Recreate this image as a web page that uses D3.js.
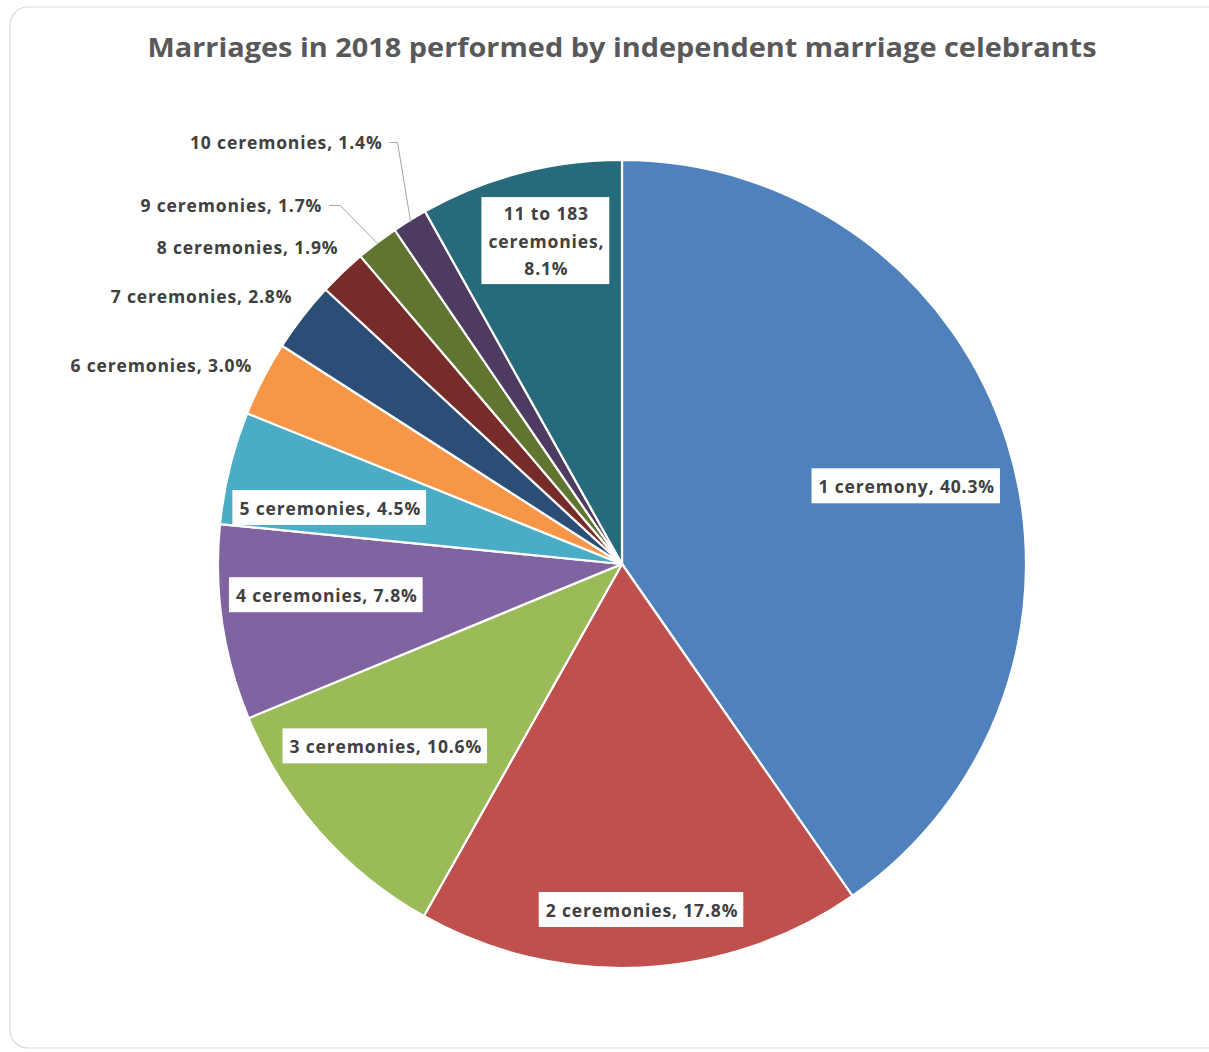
<!DOCTYPE html>
<html><head><meta charset="utf-8">
<script src="https://cdn.jsdelivr.net/npm/d3@7"></script>
<style>
html,body{margin:0;padding:0;background:#fff;}
svg{display:block;}
</style></head>
<body>
<svg id="chart" width="1209" height="1052"></svg>
<script>
// ---- data ----
const categories = ["1 ceremony","2 ceremonies","3 ceremonies","4 ceremonies","5 ceremonies","6 ceremonies","7 ceremonies","8 ceremonies","9 ceremonies","10 ceremonies","11 to 183 ceremonies"];
const shares = [40.3,17.8,10.6,7.8,4.5,3.0,2.8,1.9,1.7,1.4,8.1];
const labelLines = [
  ["1 ceremony, 40.3%"],["2 ceremonies, 17.8%"],["3 ceremonies, 10.6%"],["4 ceremonies, 7.8%"],
  ["5 ceremonies, 4.5%"],["6 ceremonies, 3.0%"],["7 ceremonies, 2.8%"],["8 ceremonies, 1.9%"],
  ["9 ceremonies, 1.7%"],["10 ceremonies, 1.4%"],["11 to 183","ceremonies,","8.1%"]
];
const titleText = "Marriages in 2018 performed by independent marriage celebrants";

// ---- style / layout ----
const colors = ["#4F81BD","#C0504D","#9BBB59","#8064A2","#4BACC6","#F79646","#2C4D75","#772C2A","#5F7530","#4D3B62","#276A7C"];
// label placement: polar angle (deg, clockwise from top), radius factor, mode
const labelAngle  = [74.9,176.7,232.2,263.8,280.7,298.2,309.0,318.1,320.1,330.4,346.8];
const labelRadius = [0.73,0.86,0.74,0.735,0.735,1.039,1.05,1.051,1.157,1.2,0.82];
const labelMode   = ["box","box","box","box","box","out","out","out","lead","lead","box"];

const W=1209,H=1052, cx=622, cy=564, R=404;
const svg=d3.select("#chart");

// card
svg.append("rect").attr("x",10).attr("y",7).attr("width",1230).attr("height",1041)
  .attr("rx",18).attr("fill","#fff").attr("stroke","#d9d9d9").attr("stroke-width",1.2);

svg.append("text").attr("x",622).attr("y",57).attr("text-anchor","middle")
  .attr("font-family","'Open Sans',sans-serif").attr("font-weight",700).attr("font-size",27)
  .attr("fill","#595959").attr("textLength",949).attr("lengthAdjust","spacingAndGlyphs")
  .text(titleText);

const data = categories.map((c,i)=>({cat:c,value:shares[i],i}));
const pie=d3.pie().sort(null).value(d=>d.value).startAngle(0).endAngle(2*Math.PI);
const arcs=pie(data);
const arc=d3.arc().innerRadius(0).outerRadius(R);
const g=svg.append("g").attr("transform",`translate(${cx},${cy})`);
g.selectAll("path.slice").data(arcs).join("path").attr("class","slice")
  .attr("d",arc).attr("fill",d=>colors[d.data.i]).attr("stroke","#fff").attr("stroke-width",2.2)
  .attr("stroke-linejoin","round");

const rad=a=>a*Math.PI/180;
const pol=(aDeg,r)=>[r*Math.sin(rad(aDeg)), -r*Math.cos(rad(aDeg))];
const fontFam="'Open Sans',sans-serif";
const fs=17.5, lh=27.5, ls=0.85;

arcs.forEach(d=>{
  const i=d.data.i;
  const [x,y]=pol(labelAngle[i],labelRadius[i]*R);
  const lines=labelLines[i];
  const mode=labelMode[i];
  const lg=g.append("g");
  if(mode==="box"){
    const t=lg.append("text").attr("text-anchor","middle").attr("font-family",fontFam)
      .attr("font-weight",700).attr("font-size",fs).attr("letter-spacing",ls).attr("fill","#404040");
    const n=lines.length;
    lines.forEach((s,k)=>{
      t.append("tspan").attr("x",x).attr("y",y+(k-(n-1)/2)*lh).attr("dy","0.35em").text(s);
    });
    const bb=t.node().getBBox();
    lg.insert("rect","text").attr("x",bb.x-7).attr("y",bb.y-(n>1?4:6)).attr("width",bb.width+12)
      .attr("height",bb.height+(n>1?8:11)).attr("fill","#fff");
  } else {
    lg.append("text").attr("x",x).attr("y",y).attr("dy","0.35em").attr("text-anchor","end")
      .attr("font-family",fontFam).attr("font-weight",700).attr("font-size",fs).attr("letter-spacing",ls).attr("fill","#404040")
      .text(lines[0]);
    if(mode==="lead"){
      const mid=(d.startAngle+d.endAngle)/2*180/Math.PI;
      const [ex,ey]=pol(mid,R*0.995);
      const x0=x+7, x1=x+(i===9?15:18);
      lg.append("polyline").attr("points",`${x0},${y} ${x1},${y} ${ex},${ey}`)
        .attr("fill","none").attr("stroke","#a6a6a6").attr("stroke-width",1);
    }
  }
});
</script>
</body></html>
